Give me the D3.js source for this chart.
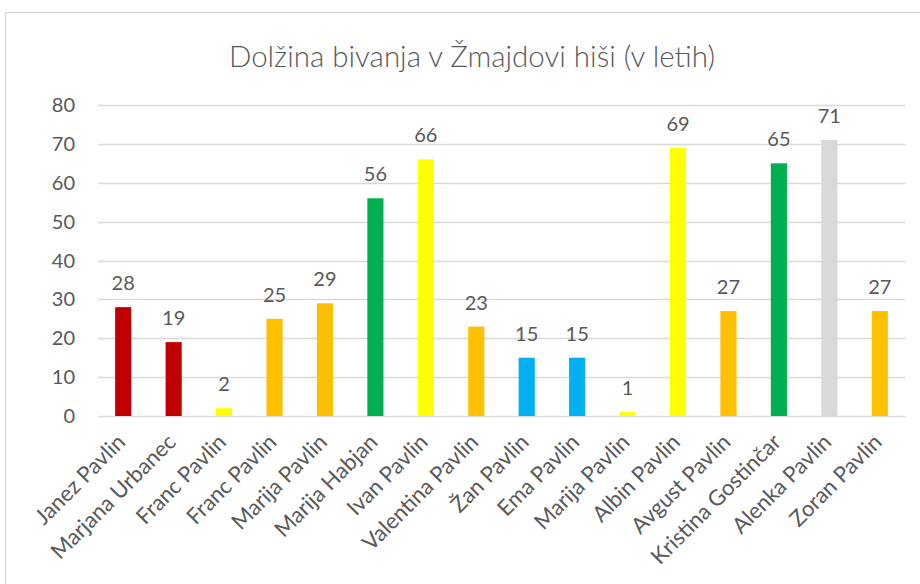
<!DOCTYPE html>
<html>
<head>
<meta charset="utf-8">
<script src="https://cdnjs.cloudflare.com/ajax/libs/d3/7.8.5/d3.min.js"></script>
<style>
  body { margin: 0; background: #fff; }
  text { font-family: Lato, "Open Sans", sans-serif; fill: #595959; }
</style>
</head>
<body>
<div id="chart"></div>
<script>
// data
const names = ["Janez Pavlin", "Marjana Urbanec", "Franc Pavlin", "Franc Pavlin", "Marija Pavlin",
  "Marija Habjan", "Ivan Pavlin", "Valentina Pavlin", "Žan Pavlin", "Ema Pavlin", "Marija Pavlin",
  "Albin Pavlin", "Avgust Pavlin", "Kristina Gostinčar", "Alenka Pavlin", "Zoran Pavlin"];
const years = [28, 19, 2, 25, 29, 56, 66, 23, 15, 15, 1, 69, 27, 65, 71, 27];
const barColors = ["#C00000", "#C00000", "#FFFF00", "#FFC000", "#FFC000", "#00B050", "#FFFF00",
  "#FFC000", "#00B0F0", "#00B0F0", "#FFFF00", "#FFFF00", "#FFC000", "#00B050", "#D9D9D9", "#FFC000"];
const yTicks = [0, 10, 20, 30, 40, 50, 60, 70, 80];

var W = 920, H = 584;
var margin = {top: 105, right: 15, bottom: 168, left: 98};

var svg = d3.select("#chart")
  .append("svg")
  .attr("width", W)
  .attr("height", H);

// chart border
svg.append("rect")
  .attr("x", 5.5)
  .attr("y", 12.5)
  .attr("width", W + 20)
  .attr("height", H + 20)
  .style("fill", "none")
  .style("stroke", "#D9D9D9")
  .style("stroke-width", 1.3);

svg.append("text")
  .attr("x", 472)
  .attr("y", 67)
  .attr("text-anchor", "middle")
  .attr("font-size", "29.5px")
  .attr("font-weight", 300)
  .text("Dolžina bivanja v Žmajdovi hiši (v letih)");

const idx = d3.range(names.length);

const x = d3.scaleBand()
  .domain(idx)
  .range([margin.left, W - margin.right])
  .paddingInner(0.68)
  .paddingOuter(0.34);

const y = d3.scaleLinear()
  .domain([0, 80])
  .range([H - margin.bottom, margin.top]);

// gridlines
svg.append("g")
  .selectAll("line")
  .data(yTicks)
  .enter().append("line")
  .attr("x1", margin.left)
  .attr("x2", W - margin.right)
  .attr("y1", d => Math.round(y(d)) + 0.5)
  .attr("y2", d => Math.round(y(d)) + 0.5)
  .style("stroke", "#D9D9D9")
  .style("stroke-width", 1.3);

// y tick labels
svg.append("g")
  .selectAll("text")
  .data(yTicks)
  .enter().append("text")
  .attr("x", 75)
  .attr("y", d => y(d))
  .attr("dy", "0.35em")
  .attr("text-anchor", "end")
  .attr("font-size", "20px")
  .text(d => d);

// bars
svg.append("g")
  .selectAll("rect")
  .data(idx)
  .enter().append("rect")
  .attr("x", i => x(i))
  .attr("y", i => y(years[i]))
  .attr("width", x.bandwidth())
  .attr("height", i => y(0) - y(years[i]))
  .style("fill", i => barColors[i]);

// value labels
svg.append("g")
  .selectAll("text")
  .data(idx)
  .enter().append("text")
  .attr("x", i => x(i) + x.bandwidth() / 2)
  .attr("y", i => y(years[i]) - 17)
  .attr("text-anchor", "middle")
  .attr("font-size", "20px")
  .text(i => years[i]);

// x labels
svg.append("g")
  .selectAll("text")
  .data(idx)
  .enter().append("text")
  .attr("transform", i => "translate(" + (x(i) + x.bandwidth() / 2 - 2) + "," + (y(0) + 22) + ") rotate(-45)")
  .attr("text-anchor", "end")
  .attr("dy", "0.35em")
  .attr("font-size", "22px")
  .text(i => names[i]);
</script>
</body>
</html>
